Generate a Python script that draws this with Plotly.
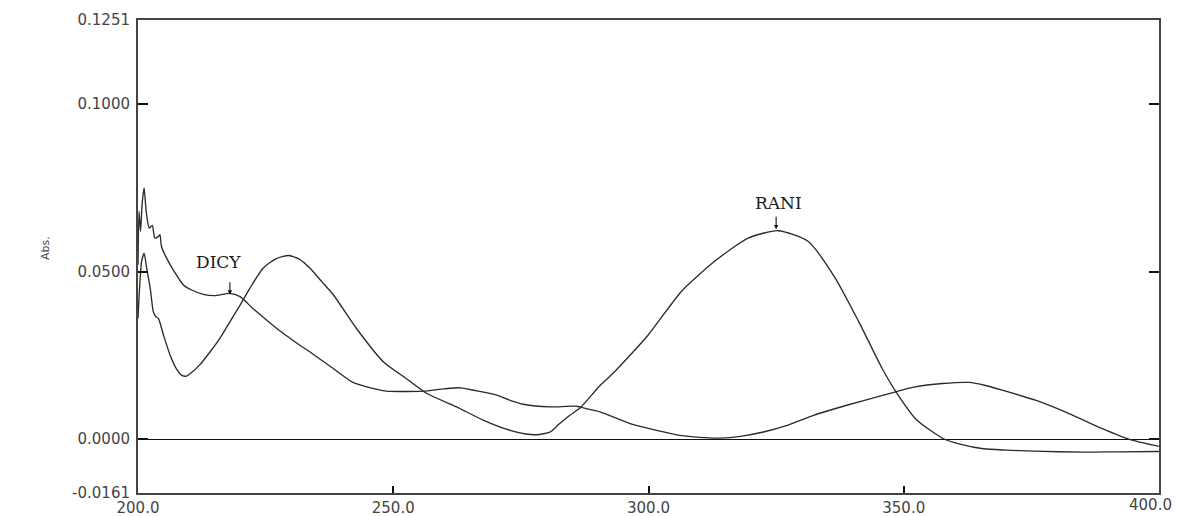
import plotly.graph_objects as go

# Wavelength (nm) and absorbance readings for each spectrum
dicy_nm = [200.0, 200.2, 200.5, 200.8, 201.2, 201.6, 202.2, 202.8, 203.3, 204.0, 204.3, 204.6,
           205.6, 206.9, 208.9, 210.5, 212.8, 215.0, 218.0, 220.0, 222.5, 226.4, 228.5, 231.7,
           233.7, 238.3, 242.0, 244.8, 248.7, 252.0, 255.9, 260.0, 263.1, 266.0, 270.3, 273.0,
           275.5, 280.7, 285.9, 288.0, 290.5, 296.4, 300.0, 306.2, 310.0, 314.0, 318.0, 322.5,
           327.0, 332.3, 338.8, 345.3, 348.4, 352.0, 357.6, 362.8, 366.0, 369.3, 375.8, 382.4,
           388.9, 394.2, 400.0]
dicy_abs = [0.052, 0.068, 0.062, 0.070, 0.075, 0.068, 0.063, 0.0638, 0.060, 0.0605, 0.061, 0.0575,
            0.054, 0.0505, 0.046, 0.0445, 0.0432, 0.0428, 0.0435, 0.0425, 0.039, 0.034, 0.0315, 0.028,
            0.026, 0.021, 0.017, 0.0156, 0.0143, 0.0142, 0.0143, 0.0150, 0.0153, 0.0145, 0.0131, 0.0115,
            0.0104, 0.0096, 0.0098, 0.0090, 0.0081, 0.0046, 0.0032, 0.0011, 0.0005, 0.0003, 0.0008, 0.0021,
            0.0040, 0.0071, 0.0101, 0.0128, 0.0141, 0.0155, 0.0166, 0.0169, 0.0160, 0.0146, 0.0116, 0.0076,
            0.0031, -0.0001, -0.0022]

rani_nm = [200.0, 200.3, 200.7, 201.2, 201.7, 202.4, 203.0, 203.5, 204.0, 205.0, 206.3, 207.5,
           208.6, 209.5, 210.2, 212.0, 214.1, 216.0, 218.0, 220.0, 221.9, 224.5, 227.0, 229.5,
           231.5, 233.7, 236.0, 238.3, 242.8, 248.1, 252.6, 256.6, 262.4, 267.7, 272.9, 276.0,
           278.1, 280.7, 282.5, 284.6, 286.8, 290.5, 293.3, 299.9, 306.4, 312.9, 319.5, 325.4,
           331.3, 336.6, 341.2, 345.8, 348.7, 352.6, 357.8, 361.0, 365.6, 370.0, 375.4, 385.2,
           392.0, 400.0]
rani_abs = [0.036, 0.045, 0.053, 0.0555, 0.051, 0.045, 0.038, 0.0365, 0.036, 0.031, 0.025, 0.021,
            0.019, 0.0188, 0.0195, 0.022, 0.026, 0.030, 0.035, 0.040, 0.045, 0.051, 0.0538, 0.0548,
            0.0538, 0.051, 0.047, 0.043, 0.033, 0.023, 0.018, 0.0136, 0.0096, 0.0056, 0.0026, 0.0015,
            0.0013, 0.0021, 0.0045, 0.0071, 0.0096, 0.016, 0.020, 0.031, 0.044, 0.053, 0.060, 0.0622,
            0.059, 0.048, 0.035, 0.021, 0.0136, 0.0056, 0.0001, -0.0015, -0.0029, -0.0033, -0.0036, -0.0039,
            -0.0038, -0.0037]

x_ticks = [200, 250, 300, 350, 400]
x_tick_text = ["200.0", "250.0", "300.0", "350.0", "400.0"]
y_ticks = [-0.0161, 0.0, 0.05, 0.1, 0.1251]
y_tick_text = ["-0.0161", "0.0000", "0.0500", "0.1000", "0.1251"]

labels = ["DICY", "RANI"]
label_pos = [(215.7, 0.0530), (325.4, 0.0705)]
arrow_pos = [(218.0, 0.0431), (325.0, 0.0626)]

W, H = 1172, 508
ML, MR, MT, MB = 130, 21, 12, 23
plot_w = W - ML - MR
plot_h = H - MT - MB

line_style = dict(color="#2b2b2b", width=1.35, shape="spline", smoothing=0.6)

fig = go.Figure()
fig.add_trace(go.Scatter(x=dicy_nm, y=dicy_abs, mode="lines", line=line_style, name="DICY"))
fig.add_trace(go.Scatter(x=rani_nm, y=rani_abs, mode="lines", line=line_style, name="RANI"))

x_font = dict(family="DejaVu Sans", size=15, color="#444")
# the last x label sits at the window edge; it is drawn as an annotation pulled slightly inward
axis_text = x_tick_text[:-1] + [""]

fig.update_xaxes(
    range=[200, 400], tickvals=x_ticks, ticktext=axis_text,
    ticks="inside", ticklen=7, tickwidth=1.5, tickcolor="#111",
    showline=True, linecolor="#444", linewidth=2, mirror=True,
    showgrid=False, zeroline=False, tickfont=x_font,
    automargin=False, ticklabeloverflow="allow",
)
fig.update_yaxes(
    range=[-0.0161, 0.1251], tickvals=y_ticks, ticktext=y_tick_text,
    ticks="inside", ticklen=10, tickwidth=1.5, tickcolor="#111",
    showline=True, linecolor="#444", linewidth=2, mirror="ticks",
    showgrid=False, zeroline=True, zerolinecolor="#111", zerolinewidth=1.2,
    tickfont=dict(family="DejaVu Sans", size=15, color="#444"),
    ticklabelstandoff=3, automargin=False, ticklabeloverflow="allow",
)

annotations = []
for lab, (lx, ly) in zip(labels, label_pos):
    annotations.append(dict(x=lx, y=ly, xref="x", yref="y", text=lab, showarrow=False,
                            font=dict(family="DejaVu Serif", size=17, color="#1a1a1a")))
for (axp, ayp) in arrow_pos:
    annotations.append(dict(x=axp, y=ayp, xref="x", yref="y", text="", showarrow=True,
                            ax=0, ay=-14, arrowhead=2, arrowsize=0.8, arrowwidth=1.1,
                            arrowcolor="#111"))
annotations.append(dict(x=x_ticks[-1], y=0, xref="x", yref="paper", text=x_tick_text[-1],
                        showarrow=False, font=x_font, xanchor="right", yanchor="top",
                        xshift=15, yshift=-1))
annotations.append(dict(x=(37 - ML) / plot_w, y=(H - MB - 240) / plot_h, xref="paper", yref="paper",
                        text="Abs.", showarrow=False, textangle=-90, xanchor="center",
                        font=dict(family="DejaVu Sans", size=11, color="#444")))
annotations.append(dict(x=300, y=0, xref="x", yref="paper", text="nm", showarrow=False,
                        font=dict(family="DejaVu Sans", size=12, color="#3a3a3a"),
                        yanchor="top", yshift=-20))

fig.update_layout(
    width=W, height=H,
    margin=dict(l=ML, r=MR, t=MT, b=MB, autoexpand=False),
    paper_bgcolor="white", plot_bgcolor="white",
    showlegend=False,
    annotations=annotations,
)

fig.write_html("out.html")
